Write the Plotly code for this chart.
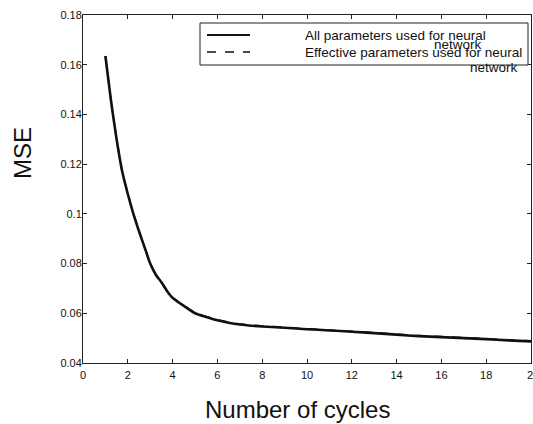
import plotly.graph_objects as go

cycles = [1, 1.25, 1.5, 1.75, 2, 2.25, 2.5, 2.75, 3, 3.25, 3.5, 3.75, 4, 4.5, 5, 5.5, 6, 6.5,
          7, 8, 9, 10, 11, 12, 13, 14, 15, 16, 17, 18, 19, 20]
mse_all = [0.1635, 0.1455, 0.1300, 0.1170, 0.1080, 0.1000, 0.0930, 0.0865, 0.0800, 0.0755,
           0.0725, 0.0690, 0.0662, 0.0630, 0.0600, 0.0585, 0.0572, 0.0562,
           0.0555, 0.0547, 0.0542, 0.0536, 0.0531, 0.0526, 0.0520, 0.0514, 0.0508, 0.0504,
           0.0500, 0.0496, 0.0491, 0.0487]
mse_eff = [0.1635, 0.1456, 0.1302, 0.1172, 0.1082, 0.1002, 0.0932, 0.0867, 0.0802, 0.0757,
           0.0727, 0.0692, 0.0664, 0.0632, 0.0602, 0.0587, 0.0574, 0.0564,
           0.0557, 0.0549, 0.0544, 0.0538, 0.0533, 0.0528, 0.0522, 0.0516, 0.0510, 0.0506,
           0.0502, 0.0498, 0.0493, 0.0489]

x_ticks = [0, 2, 4, 6, 8, 10, 12, 14, 16, 18, 20]
x_tick_labels = ["0", "2", "4", "6", "8", "10", "12", "14", "16", "18", "20"]
y_ticks = [0.04, 0.06, 0.08, 0.1, 0.12, 0.14, 0.16, 0.18]
y_tick_labels = ["0.04", "0.06", "0.08", "0.1", "0.12", "0.14", "0.16", "0.18"]
series_names = ["All parameters used for neural", "Effective parameters used for neural"]
wrap_word = "network"
x_title = "Number of cycles"
y_title = "MSE"

FONT = "Liberation Sans, Arial, Helvetica, sans-serif"

fig = go.Figure()
fig.add_trace(go.Scatter(x=cycles, y=mse_all, mode="lines", name=series_names[0],
                         line=dict(color="#111111", width=2.6, shape="spline", smoothing=0.6),
                         showlegend=False))
fig.add_trace(go.Scatter(x=cycles, y=mse_eff, mode="lines", name=series_names[1],
                         line=dict(color="#111111", width=1.6, dash="dash", shape="spline",
                                   smoothing=0.6),
                         showlegend=False))

L, R, T, B = 83, 531, 15, 363
W, H = R - L, B - T


def px(x):
    return (x - L) / W


def py(y):
    return (B - y) / H


shapes = [
    dict(type="rect", xref="paper", yref="paper", x0=px(200), x1=px(528), y0=py(65), y1=py(23),
         line=dict(color="#222222", width=1), fillcolor="white", layer="above"),
    dict(type="line", xref="paper", yref="paper", x0=px(207), x1=px(250), y0=py(35), y1=py(35),
         line=dict(color="#111111", width=2), layer="above"),
    dict(type="line", xref="paper", yref="paper", x0=px(207), x1=px(250), y0=py(52), y1=py(52),
         line=dict(color="#111111", width=1.5, dash="dash"), layer="above"),
]

tick_font = dict(family=FONT, size=11, color="#111111")
ann_font = dict(family=FONT, size=13.5, color="#111111")
annotations = [
    dict(text=series_names[0], xref="paper", yref="paper", x=px(303), y=py(35),
         xanchor="left", yanchor="middle", showarrow=False, font=ann_font),
    dict(text=series_names[1], xref="paper", yref="paper", x=px(303), y=py(52),
         xanchor="left", yanchor="middle", showarrow=False, font=ann_font),
    dict(text=wrap_word, xref="paper", yref="paper", x=px(458), y=py(45),
         xanchor="center", yanchor="middle", showarrow=False, font=ann_font),
    dict(text=wrap_word, xref="paper", yref="paper", x=px(494), y=py(68),
         xanchor="center", yanchor="middle", showarrow=False, font=ann_font),
    dict(text=y_title, xref="paper", yref="paper", x=px(22), y=py(153), textangle=-90,
         xanchor="center", yanchor="middle", showarrow=False,
         font=dict(family=FONT, size=24, color="#111111")),
    dict(text=x_title, xref="paper", yref="paper", x=px(297), y=py(409),
         xanchor="center", yanchor="middle", showarrow=False,
         font=dict(family=FONT, size=24, color="#111111")),
    # last x tick label, clipped at the page edge as in the reference
    dict(text=x_tick_labels[-1], xref="x", yref="paper", x=x_ticks[-1], y=0,
         xanchor="left", yanchor="top", xshift=-5, yshift=-5, width=7, align="left",
         borderpad=0, showarrow=False, font=tick_font),
]

axis_common = dict(showline=True, linecolor="#222222", linewidth=1, mirror="ticks",
                   ticks="inside", ticklen=4, tickcolor="#222222", showgrid=False,
                   zeroline=False, tickfont=tick_font)

fig.update_layout(
    width=533, height=424,
    margin=dict(l=L, r=533 - R, t=T, b=424 - B),
    paper_bgcolor="white", plot_bgcolor="white",
    xaxis=dict(range=[0, 20], tickvals=x_ticks,
               ticktext=x_tick_labels[:-1] + [""], ticklabelstandoff=2, **axis_common),
    yaxis=dict(range=[0.04, 0.18], tickvals=y_ticks, ticktext=y_tick_labels,
               ticklabelstandoff=-2, **axis_common),
    shapes=shapes, annotations=annotations,
)

fig.write_html("out.html")
